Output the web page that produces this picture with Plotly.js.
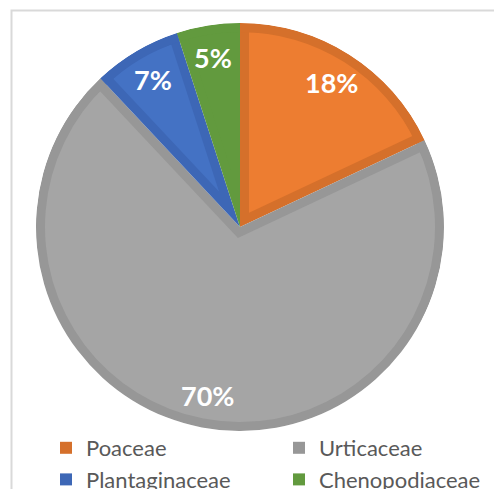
<!DOCTYPE html>
<html><head><meta charset="utf-8">
<script src="https://cdn.plot.ly/plotly-3.0.1.min.js"></script>
<style>html,body{margin:0;padding:0;background:#fff;} #chart{width:494px;height:489px;}</style>
</head><body><div id="chart"></div>
<script>
const categories = ['Poaceae', 'Urticaceae', 'Plantaginaceae', 'Chenopodiaceae'];
const shares = [18, 70, 7, 5];
const percentLabels = shares.map(v => v + '%');
const fillColors = ['#ED7D31', '#A5A5A5', '#4472C4', '#629A3E'];
const edgeColors = ['#D5702B', '#979797', '#3D67B6', '#629A3E'];

const W = 494, H = 489, CX = 240, CY = 227, R = 204, BW = 9;
function dom(half) {
  return {x: [(CX - half) / W, (CX + half) / W], y: [(H - CY - half) / H, (H - CY + half) / H]};
}
const total = shares.reduce((a, b) => a + b, 0);
const common = {type: 'pie', labels: categories, values: shares, sort: false,
  direction: 'clockwise', rotation: 0, textinfo: 'none'};

const traces = [];
traces.push(Object.assign({}, common, {marker: {colors: edgeColors}, domain: dom(R),
  hoverinfo: 'label+percent', showlegend: true}));

shares.forEach((v, i) => {
  const half = Math.PI * v / total;
  const d = BW / Math.sin(half);
  const c = Math.cos(half);
  const inner = R - BW;
  const rp = -d * c + Math.sqrt(d * d * c * c - d * d + inner * inner);
  const colors = categories.map((_, j) => j === i ? fillColors[i] : 'rgba(0,0,0,0)');
  const pull = categories.map((_, j) => j === i ? d / rp : 0);
  traces.push(Object.assign({}, common, {marker: {colors: colors}, pull: pull,
    domain: dom(rp + d), hoverinfo: 'skip', showlegend: false}));
});

traces.push(Object.assign({}, common, {marker: {colors: edgeColors}, hole: (R - BW) / R,
  domain: dom(R), hoverinfo: 'skip', showlegend: false}));
const RW = R + 12;
traces.push(Object.assign({}, common, {marker: {colors: categories.map(() => '#ffffff')},
  hole: R / RW, domain: dom(RW), hoverinfo: 'skip', showlegend: false}));

let cum = 0;
const annotations = shares.map((v, i) => {
  const a = 2 * Math.PI * (cum + v / 2) / total;
  cum += v;
  const rr = 0.84 * R;
  return {xref: 'paper', yref: 'paper', x: (CX + rr * Math.sin(a)) / W, y: (H - CY + rr * Math.cos(a)) / H,
    text: percentLabels[i], showarrow: false, xanchor: 'center', yanchor: 'middle',
    font: {family: 'Lato', size: 27, color: '#ffffff', weight: 'bold'}};
});

const layout = {
  width: W, height: H, autosize: false,
  margin: {l: 0, r: 0, t: 0, b: 0, pad: 0, autoexpand: false},
  paper_bgcolor: '#ffffff', plot_bgcolor: '#ffffff',
  showlegend: true,
  legend: {orientation: 'h', x: 46 / W, xanchor: 'left', y: (H - 427) / H, yanchor: 'top',
    font: {family: 'Lato', size: 22, color: '#595959'}, bgcolor: 'rgba(0,0,0,0)',
    entrywidth: 188, traceorder: 'normal'},
  annotations: annotations,
  shapes: [{type: 'rect', xref: 'paper', yref: 'paper', x0: 11.5 / W, x1: 1.2, y0: -0.2, y1: (H - 10.5) / H,
    line: {color: '#d9d9d9', width: 2}, fillcolor: 'rgba(0,0,0,0)', layer: 'above'}]
};
Plotly.newPlot('chart', traces, layout, {displayModeBar: false, staticPlot: true});
</script></body></html>
